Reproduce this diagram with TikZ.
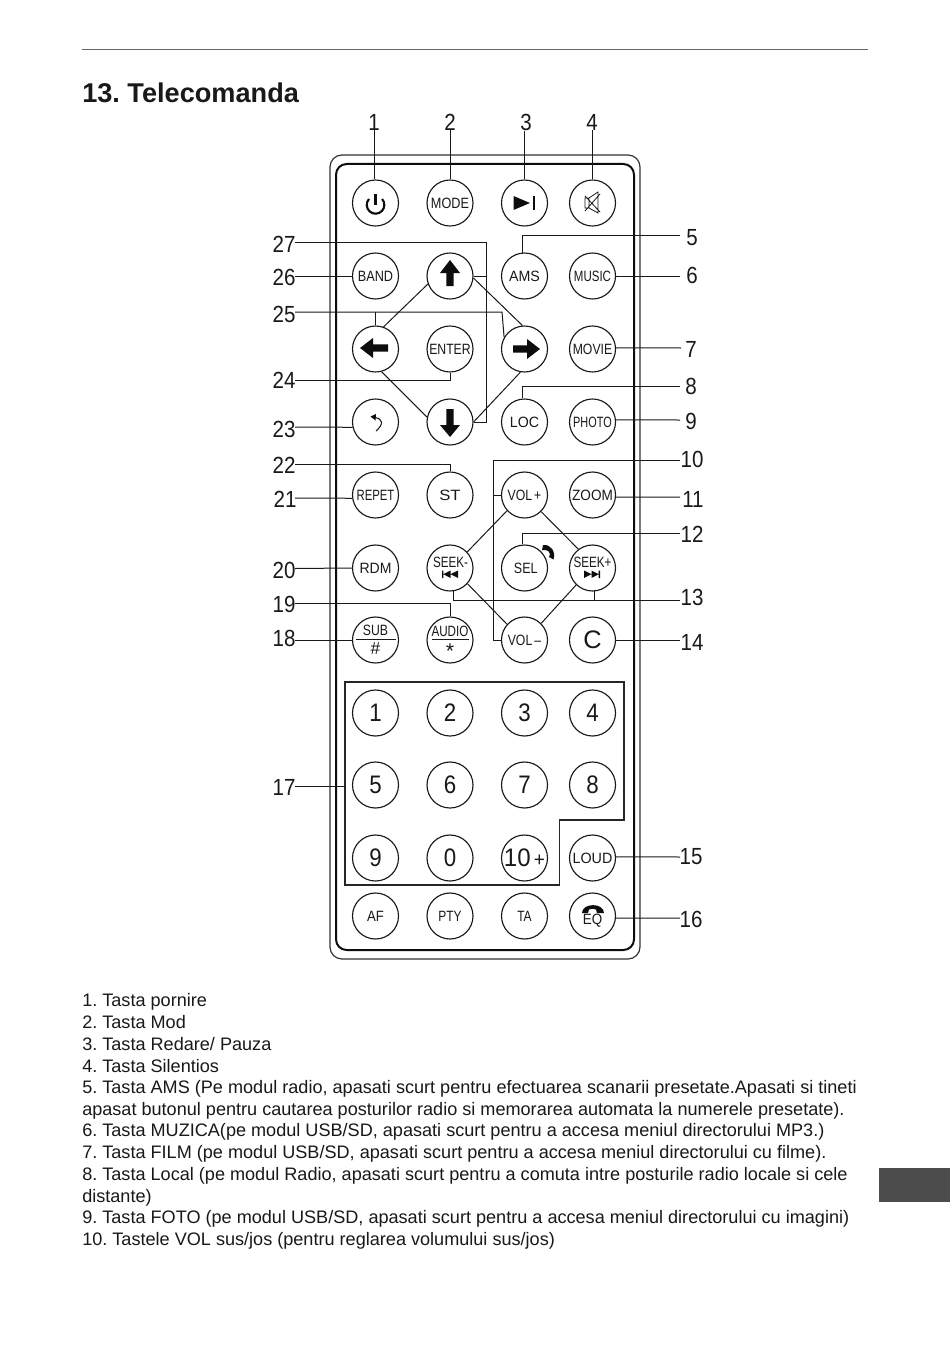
\documentclass[tikz,border=0pt]{standalone}
\usepackage{fontspec}
\setmainfont{Liberation Sans}
\frenchspacing
\newcommand{\bl}[2]{\fontsize{11.2}{11.2}\selectfont\scalebox{#1}[1]{#2}}
\newcommand{\dg}[2]{\fontsize{19}{19}\selectfont\scalebox{#1}[1]{#2}}
\newcommand{\lb}[1]{\fontsize{17.5}{17.5}\selectfont\scalebox{0.88}[1]{#1}}
\tikzset{
  x=0.75pt,y=-0.75pt,
  btn/.style={circle,draw=black!90,line width=0.85pt,minimum size=34.5pt,inner sep=0pt,text=black!90},
  lab/.style={inner sep=0pt,text=black!90},
  con/.style={draw=black!90,line width=0.75pt},
  sym/.style={fill=black!95,draw=none},
  body/.style={anchor=base west,inner sep=0pt,font=\fontsize{13.57}{13.57}\selectfont,text=black!90},
  tiny/.style={inner sep=0pt,text=black!90},
}
\begin{document}
\begin{tikzpicture}
\useasboundingbox (0,0) rectangle (950,1348);
\fill[white] (0,0) rectangle (950,1348);
\fill[black!70] (879,1168) rectangle (950,1202);
\draw[line width=0.75pt,black!60] (82,50) -- (868,50);
\node[anchor=base west,inner sep=0pt,font=\bfseries\fontsize{20.35}{20.35}\selectfont,text=black!90] (title) at (82,103) {13. Telecomanda};
% remote
\draw[line width=0.9pt,black!80,rounded corners=9pt] (330,155) rectangle (640,959);
\draw[line width=1.5pt,black!95,rounded corners=8pt] (336,164) rectangle (634,950);
\draw[line width=1pt,black!85] (345,682) -- (624,682) -- (624,820) -- (559.5,820) -- (559.5,885) -- (345,885) -- cycle;
% buttons
\node[btn] (b1) at (375.5,203) {};
\node[btn] (b2) at (450,203) {\bl{0.85}{MODE}};
\node[btn] (b3) at (524.5,203) {};
\node[btn] (b4) at (592.5,203) {};
\node[btn] (b26) at (375.5,276) {\bl{0.85}{BAND}};
\node[btn] (bU) at (450,276) {};
\node[btn] (b5) at (524.5,276) {\bl{0.95}{AMS}};
\node[btn] (b6) at (592.5,276) {\bl{0.77}{MUSIC}};
\node[btn] (bL) at (375.5,349) {};
\node[btn] (b24) at (450,349) {\bl{0.82}{ENTER}};
\node[btn] (bR) at (524.5,349) {};
\node[btn] (b7) at (592.5,349) {\bl{0.82}{MOVIE}};
\node[btn] (b23) at (375.5,422) {};
\node[btn] (bD) at (450,422) {};
\node[btn] (b8) at (524.5,422) {\bl{0.95}{LOC}};
\node[btn] (b9) at (592.5,422) {\bl{0.73}{PHOTO}};
\node[btn] (b21) at (375.5,495) {\bl{0.76}{REPET}};
\node[btn] (b22) at (450,495) {\bl{1.12}{ST}};
\node[btn] (bVp) at (524.5,495) {\bl{0.82}{VOL\,+}};
\node[btn] (b11) at (592.5,495) {\bl{0.91}{ZOOM}};
\node[btn] (b20) at (375.5,568) {\bl{0.94}{RDM}};
\node[btn] (bSm) at (450,568) {};
\node[btn] (b12) at (524.5,568) {\hspace{2pt}\bl{0.84}{SEL}};
\node[btn] (bSp) at (592.5,568) {};
\node[btn] (b18) at (375.5,640) {};
\node[btn] (b19) at (450,640) {};
\node[btn] (bVm) at (524.5,640) {\bl{0.82}{VOL\,--}};
\node[btn] (b14) at (592.5,640) {\dg{1}{C}};
\node[btn] (k1) at (375.5,713) {\dg{0.88}{1}};
\node[btn] (k2) at (450,713) {\dg{0.88}{2}};
\node[btn] (k3) at (524.5,713) {\dg{0.88}{3}};
\node[btn] (k4) at (592.5,713) {\dg{0.88}{4}};
\node[btn] (k5) at (375.5,785) {\dg{0.88}{5}};
\node[btn] (k6) at (450,785) {\dg{0.88}{6}};
\node[btn] (k7) at (524.5,785) {\dg{0.88}{7}};
\node[btn] (k8) at (592.5,785) {\dg{0.88}{8}};
\node[btn] (k9) at (375.5,858) {\dg{0.88}{9}};
\node[btn] (k0) at (450,858) {\dg{0.88}{0}};
\node[btn] (k10) at (524.5,858) {\dg{0.95}{10{\fontsize{15}{15}\selectfont\,+}}};
\node[btn] (b15) at (592.5,858) {\bl{0.96}{LOUD}};
\node[btn] (bAF) at (375.5,916) {\bl{0.88}{AF}};
\node[btn] (bPTY) at (450,916) {\bl{0.8}{PTY}};
\node[btn] (bTA) at (524.5,916) {\bl{0.8}{TA}};
\node[btn] (b16) at (592.5,916) {};
% composite button texts
\node[tiny] (tSm) at (450.5,562) {\bl{0.78}{SEEK-}};
\node[tiny] (tSp) at (592.5,562) {\bl{0.78}{SEEK+}};
\node[tiny] (tSUB) at (375.5,630) {\bl{0.82}{SUB}};
\node[tiny] (tHash) at (375.5,649) {\fontsize{13}{13}\selectfont \#};
\node[tiny] (tAUD) at (450,631) {\bl{0.78}{AUDIO}};
\node[tiny] (tAst) at (450,651) {\fontsize{16}{16}\selectfont *};
\node[tiny] (tEQ) at (592.5,921) {\bl{0.9}{EQ}};
\draw[line width=0.7pt,black!90] (356,639) -- (396,639);
\draw[line width=0.7pt,black!90] (432,639) -- (469,639);
% icons
\draw[line width=1.6pt,black!95] (375.5,194) -- (375.5,205);
\draw[line width=1.6pt,black!95] (369,199) arc[start angle=138,end angle=402,radius=6.6pt];
\fill[sym] (513.5,196) -- (530,203) -- (513.5,210) -- cycle;
\fill[sym] (532.5,196) rectangle (534.5,210);
\draw[line width=0.6pt,black!90] (585,198) -- (589,198) -- (598,192) -- (598,213) -- (589,208) -- (585,208) -- cycle (589,198) -- (589,208) (585,196) -- (600,212) (585,211) -- (600,194);
\fill[sym] (450,260) -- (460,273) -- (453.7,273) -- (453.7,286) -- (446.3,286) -- (446.3,273) -- (440,273) -- cycle;
\fill[sym] (360,348) -- (373,338) -- (373,344.3) -- (388,344.3) -- (388,351.7) -- (373,351.7) -- (373,358) -- cycle;
\fill[sym] (540,349) -- (527,339) -- (527,345.3) -- (513,345.3) -- (513,352.7) -- (527,352.7) -- (527,359) -- cycle;
\fill[sym] (450,437) -- (460,425) -- (453.7,425) -- (453.7,409) -- (446.3,409) -- (446.3,425) -- (440,425) -- cycle;
\draw[line width=0.8pt,black!90] (375,417.5) .. controls (383,419) and (384,424) .. (376,431);
\fill[sym] (370.5,416.5) -- (376,414) -- (375.5,420.5) -- cycle;
\fill[sym] (442,570.5) rectangle (443.3,578) (443.3,574.2) -- (450.5,570.5) -- (450.5,578) -- cycle (450.5,574.2) -- (458,570.5) -- (458,578) -- cycle;
\fill[sym] (600,570.5) rectangle (598.7,578) (598.7,574.2) -- (591.5,570.5) -- (591.5,578) -- cycle (591.5,574.2) -- (584,570.5) -- (584,578) -- cycle;
\fill[sym] (543,545) .. controls (551,544) and (556,552) .. (553.5,559.5) -- (549,557) -- (550,554) .. controls (549.5,552) and (548,550) .. (545.5,550) -- (542,550) -- cycle;
\fill[sym] (582,913) .. controls (582,902.5) and (604,902.5) .. (604,913) -- (597,913) -- (596,909.5) .. controls (593,908.5) and (592,908.5) .. (589,909.5) -- (588,913) -- cycle;
% free ends
\coordinate (c27) at (295,243);
\coordinate (j27) at (486,422);
\coordinate (c5) at (680,236);
\coordinate (c26) at (295,276);
\coordinate (c6) at (680,276);
\coordinate (c25) at (295,312);
\coordinate (j25) at (502,312);
\coordinate (c24) at (295,380);
\coordinate (c7) at (681,348);
\coordinate (c8) at (680,386);
\coordinate (c9) at (680,420);
\coordinate (c23) at (295,427);
\coordinate (c22) at (295,464.5);
\coordinate (c10) at (680,460);
\coordinate (j10) at (493.5,640);
\coordinate (c21) at (295,498);
\coordinate (c11) at (680,497);
\coordinate (c12) at (680,533);
\coordinate (c20) at (295,568.5);
\coordinate (c13) at (680,600);
\coordinate (c19) at (295,603.5);
\coordinate (c18) at (295,640);
\coordinate (c14) at (680,640);
\coordinate (c17) at (295,786);
\coordinate (b17) at (345,786);
\coordinate (c15) at (680,857);
\coordinate (c16) at (680,918);
% labels
\node[lab] (l1) at (374,122) {\lb{1}};
\node[lab] (l2) at (450,122) {\lb{2}};
\node[lab] (l3) at (526,122) {\lb{3}};
\node[lab] (l4) at (592,122) {\lb{4}};
\node[lab] (l5) at (692,238) {\lb{5}};
\node[lab] (l6) at (692,275) {\lb{6}};
\node[lab] (l7) at (691,349) {\lb{7}};
\node[lab] (l8) at (691,386) {\lb{8}};
\node[lab] (l9) at (691,421) {\lb{9}};
\node[lab] (l10) at (692,459) {\lb{10}};
\node[lab] (l11) at (693,499) {\lb{11}};
\node[lab] (l12) at (692,534) {\lb{12}};
\node[lab] (l13) at (692,597) {\lb{13}};
\node[lab] (l14) at (692,642) {\lb{14}};
\node[lab] (l15) at (691,857) {\lb{15}};
\node[lab] (l16) at (691,919) {\lb{16}};
\node[lab] (l17) at (284,787) {\lb{17}};
\node[lab] (l18) at (284,638) {\lb{18}};
\node[lab] (l19) at (284,604) {\lb{19}};
\node[lab] (l20) at (284,570) {\lb{20}};
\node[lab] (l21) at (285,499) {\lb{21}};
\node[lab] (l22) at (284,465) {\lb{22}};
\node[lab] (l23) at (284,429) {\lb{23}};
\node[lab] (l24) at (284,380) {\lb{24}};
\node[lab] (l25) at (284,314) {\lb{25}};
\node[lab] (l26) at (284,277) {\lb{26}};
\node[lab] (l27) at (284,244) {\lb{27}};
% connectors
\draw[con] (l1.south) -- (b1.north -| l1.south);
\draw[con] (l2.south) -- (b2.north);
\draw[con] (l3.south -| b3.north) -- (b3.north);
\draw[con] (l4.south) -- (b4.north -| l4.south);
\draw[con] (c27) -| (j27) -- (bD.east);
\draw[con] (bU.east) -- (bU.east -| j27);
\draw[con] (c5) -| (b5.96);
\draw[con] (c26) -- (b26.west);
\draw[con] (c6) -- (b6.east);
\draw[con] (c25) -- (j25) -- (bR.150);
\draw[con] (bL.north |- c25) -- (bL.north);
\draw[con] (c24) -| (b24.south);
\draw[con] (c7) -- (b7.3);
\draw[con] (c8) -| (b8.94);
\draw[con] (c9) -- (b9.5);
\draw[con] (c23) -- (b23.193);
\draw[con] (c22) -| (b22.north);
\draw[con] (c10) -| (j10) -- (bVm.west);
\draw[con] (bVp.west) -- (bVp.west -| j10);
\draw[con] (c21) -- (b21.188);
\draw[con] (c11) -- (b11.-5);
\draw[con] (c12) -| (b12.94);
\draw[con] (c20) -- (b20.west);
\draw[con] (c13) -| (bSm.-82);
\draw[con] (bSp.-84) -- (bSp.-84 |- c13);
\draw[con] (c19) -| (b19.north);
\draw[con] (c18) -- (b18.west);
\draw[con] (c14) -- (b14.east);
\draw[con] (c17) -- (b17);
\draw[con] (c15) -- (b15.3);
\draw[con] (c16) -- (b16.-5);
% diamonds
\draw[con] (bU.200) -- (bL.70);
\draw[con] (bU.355) -- (bR.95);
\draw[con] (bL.285) -- (bD.168);
\draw[con] (bR.260) -- (bD.east);
\draw[con] (bVp.222) -- (bSm.43);
\draw[con] (bVp.315) -- (bSp.127);
\draw[con] (bSm.318) -- (bVm.138);
\draw[con] (bSp.226) -- (bVm.45);
% body text
\node[body] (t1) at (82,1006) {1. Tasta pornire};
\node[body] (t2) at (82,1028) {2. Tasta Mod};
\node[body] (t3) at (82,1050) {3. Tasta Redare/ Pauza};
\node[body] (t4) at (82,1072) {4. Tasta Silentios};
\node[body] (t5) at (82,1093) {5. Tasta AMS (Pe modul radio, apasati scurt pentru efectuarea scanarii presetate.Apasati si tineti};
\node[body] (t5b) at (82,1115) {apasat butonul pentru cautarea posturilor radio si memorarea automata la numerele presetate).};
\node[body] (t6) at (82,1136) {6. Tasta MUZICA(pe modul USB/SD, apasati scurt pentru a accesa meniul directorului MP3.)};
\node[body] (t7) at (82,1158) {7. Tasta FILM (pe modul USB/SD, apasati scurt pentru a accesa meniul directorului cu filme).};
\node[body] (t8) at (82,1180) {8. Tasta Local (pe modul Radio, apasati scurt pentru a comuta intre posturile radio locale si cele};
\node[body] (t8b) at (82,1202) {distante)};
\node[body] (t9) at (82,1223) {9. Tasta FOTO (pe modul USB/SD, apasati scurt pentru a accesa meniul directorului cu imagini)};
\node[body] (t10) at (82,1245) {10. Tastele VOL sus/jos (pentru reglarea volumului sus/jos)};
\end{tikzpicture}
\end{document}
